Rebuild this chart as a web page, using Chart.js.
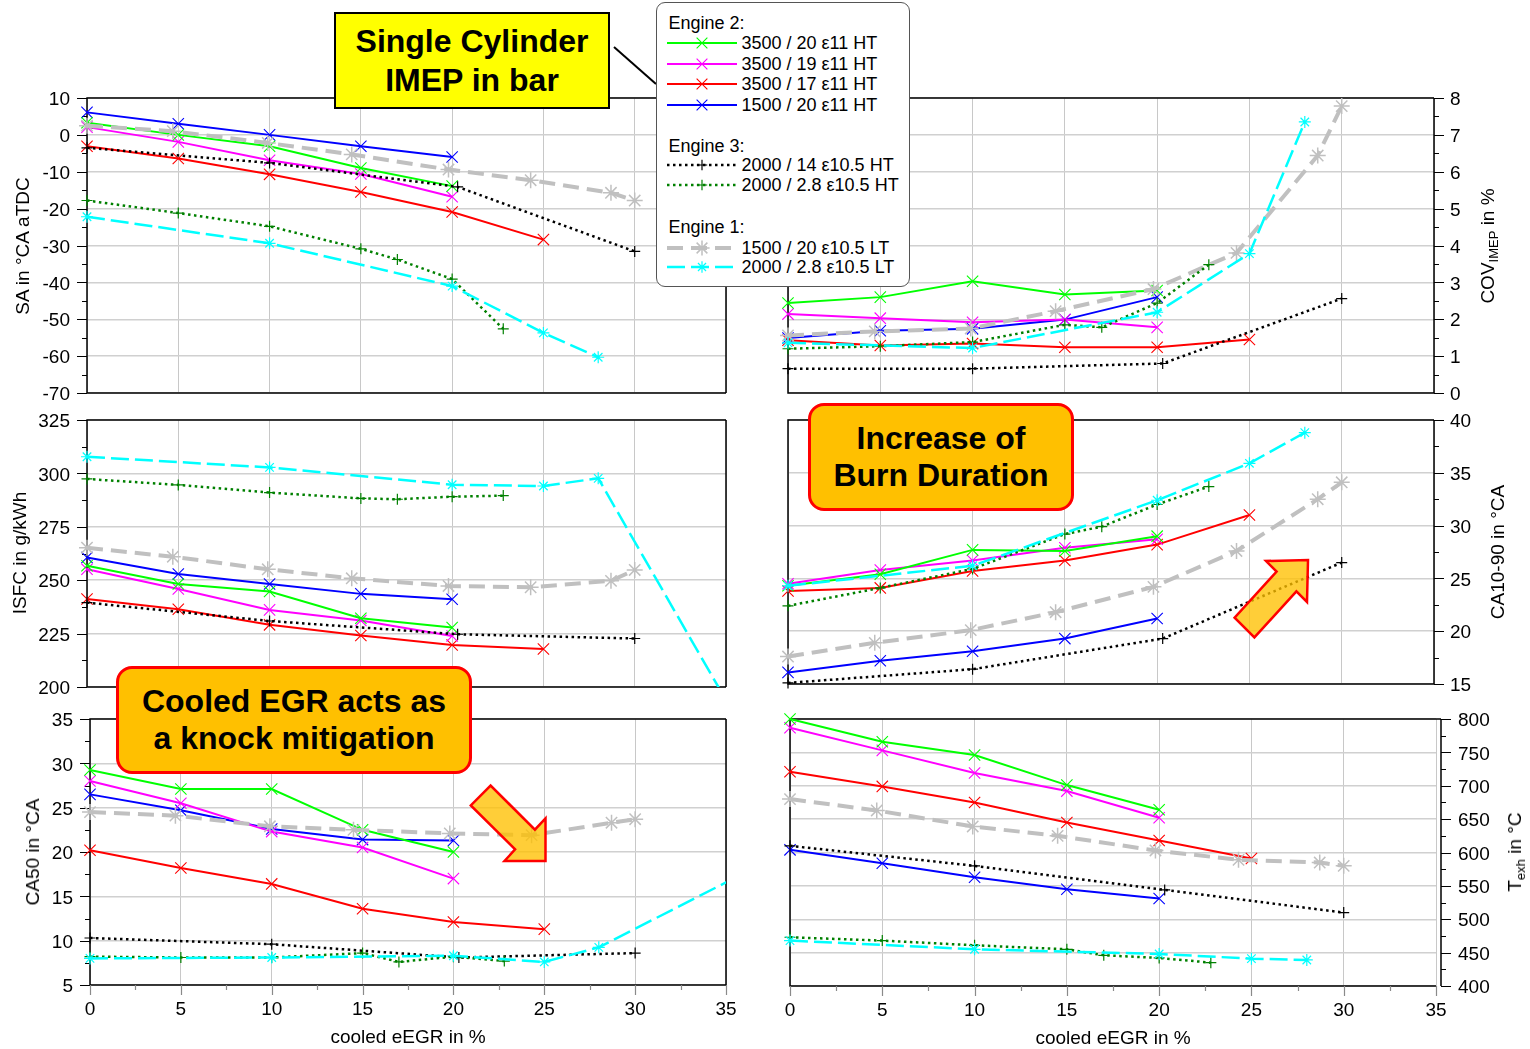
<!DOCTYPE html>
<html>
<head>
<meta charset="utf-8">
<script src="https://cdn.jsdelivr.net/npm/chart.js@4.4.1/dist/chart.umd.min.js"></script>
<style>
  body { margin: 0; background: #fff; font-family: 'Liberation Sans', Arial, sans-serif; }
  #wrap { position: relative; width: 1530px; height: 1049px; overflow: hidden; }
  canvas { position: absolute; }
  .ytitle { position: absolute; font-size: 19px; line-height: 22px; white-space: nowrap;
            transform: translate(-50%, -50%) rotate(-90deg); }
  .ytitle sub { font-size: 13px; line-height: 0; vertical-align: -4px; }
  .xtitle { position: absolute; font-size: 19px; line-height: 22px; white-space: nowrap; transform: translateX(-50%); }
  .callout { position: absolute; box-sizing: border-box; display: flex; flex-direction: column;
             justify-content: center; align-items: center; text-align: center; font-weight: bold; font-size: 32px; }
  #legend { position: absolute; left: 656px; top: 2px; width: 254px; height: 285px; box-sizing: border-box;
            border: 1.5px solid #555; border-radius: 9px; background: #fff; font-size: 18px; }
  .lrow { position: absolute; height: 20px; line-height: 20px; white-space: nowrap; }
  .lrow svg { vertical-align: top; }
  .lrow span { margin-left: 5px; }
</style>
</head>
<body>
<div id="wrap"></div>
<script>
// cooled eEGR in % for each operating point
const egrEngine2 = [0, 5, 10, 15, 20];
const egrRed = [0, 5, 10, 15, 20, 25];
const egrBlack = [0, 10, 20.3, 30];
const egrGreenDot = [0, 5, 10, 15, 17, 20, 22.8];
const egrGray = [0, 4.7, 9.9, 14.5, 19.8, 24.3, 28.7, 30];
const egrCyan = [0, 10, 20, 25, 28, 40]; // last point only in ISFC / CA50, outside the axis

// SA in °CA aTDC
const saGreen = [3.3, 0, -3.1, -9.0, -13.9];
const saMagenta = [2.1, -1.9, -6.9, -10.6, -16.8];
const saRed = [-3.1, -6.4, -10.7, -15.5, -20.9, -28.4];
const saBlue = [6.1, 3.0, 0, -3.1, -6.0];
const saBlack = [-3.5, -7.6, -14.1, -31.6];
const saGreenDot = [-17.8, -21.2, -24.8, -30.9, -33.8, -39.1, -52.6];
const saGray = [2.5, 1.0, -2.2, -5.3, -9.4, -12.3, -15.7, -17.8];
const saCyan = [-22.2, -29.4, -41.0, -53.7, -60.3];

// COV IMEP in %
const covGreen = [2.44, 2.60, 3.03, 2.67, 2.78];
const covMagenta = [2.14, 2.03, 1.92, 1.99, 1.78];
const covRed = [1.43, 1.29, 1.34, 1.24, 1.24, 1.45];
const covBlue = [1.49, 1.69, 1.74, 1.99, 2.60];
const covBlack = [0.66, 0.66, 0.80, 2.56];
const covGreenDot = [1.20, 1.27, 1.38, 1.85, 1.78, 2.44, 3.48];
const covGray = [1.56, 1.67, 1.75, 2.22, 2.82, 3.80, 6.44, 7.78];
const covCyan = [1.36, 1.22, 2.19, 3.78, 7.35];

// ISFC in g/kWh
const isfcGreen = [256.8, 248.2, 244.7, 232.2, 227.8];
const isfcMagenta = [255.1, 245.9, 236.1, 231.1, 223.9];
const isfcRed = [241.2, 236.4, 229.1, 224.1, 219.7, 217.8];
const isfcBlue = [260.6, 252.9, 248.2, 243.6, 241.1];
const isfcBlack = [239.5, 230.9, 224.7, 222.7];
const isfcGreenDot = [297.4, 294.6, 291.0, 288.3, 287.9, 289.1, 289.6];
const isfcGray = [265.2, 261.0, 255.1, 250.9, 247.3, 246.7, 249.7, 254.8];
const isfcCyan = [307.8, 302.8, 294.7, 294.1, 297.7, 119.6];

// CA10-90 in °CA
const burnGreen = [24.3, 25.4, 27.7, 27.6, 29.0];
const burnMagenta = [24.5, 25.8, 26.7, 27.9, 28.7];
const burnRed = [23.8, 24.1, 25.7, 26.7, 28.2, 31.0];
const burnBlue = [16.1, 17.2, 18.1, 19.3, 21.2];
const burnBlack = [15.1, 16.4, 19.3, 26.5];
const burnGreenDot = [22.4, 24.1, 25.9, 29.2, 29.9, 32.0, 33.7];
const burnGray = [17.6, 18.9, 20.1, 21.8, 24.2, 27.6, 32.5, 34.1];
const burnCyan = [24.3, 26.2, 32.4, 35.9, 38.8];

// CA50 in °CA
const ca50Green = [29.25, 27.1, 27.1, 22.5, 20.0];
const ca50Magenta = [28.0, 25.5, 22.3, 20.5, 17.0];
const ca50Red = [20.2, 18.2, 16.4, 13.6, 12.1, 11.3];
const ca50Blue = [26.5, 24.7, 22.6, 21.4, 21.3];
const ca50Black = [10.3, 9.6, 8.1, 8.6];
const ca50GreenDot = [8.2, 8.1, 8.1, 8.6, 7.6, 8.2, 7.7];
const ca50Gray = [24.5, 24.1, 22.9, 22.5, 22.1, 21.9, 23.3, 23.7];
const ca50Cyan = [8.0, 8.1, 8.3, 7.6, 9.25, 21.8];

// Texh in °C
const texhGreen = [800, 766, 746, 701, 664];
const texhMagenta = [787, 753, 719, 692, 652];
const texhRed = [721, 699, 675, 645, 618, 591];
const texhBlue = [604, 584, 563, 545, 531];
const texhBlack = [610, 580, 544, 510];
const texhGreenDot = [473, 468, 461, 455, 446, 442, 435];
const texhGray = [680, 663, 639, 625, 603, 589, 585, 580];
const texhCyan = [468, 455, 448, 441, 439];

// line styles
const eng2 = { w: 2, dash: [], ps: 'crossRot', r: 8, pw: 1.1 };
const styles = {
  green:    { label: '3500 / 20 ε11 HT', color: '#00ff00', ...eng2 },
  magenta:  { label: '3500 / 19 ε11 HT', color: '#ff00ff', ...eng2 },
  red:      { label: '3500 / 17 ε11 HT', color: '#ff0000', ...eng2 },
  blue:     { label: '1500 / 20 ε11 HT', color: '#0000ff', ...eng2 },
  black:    { label: '2000 / 14 ε10.5 HT', color: '#000000', w: 2.5, dash: [2.5, 3.5], ps: 'cross', r: 5.5, pw: 1.2 },
  greenDot: { label: '2000 / 2.8 ε10.5 HT', color: '#008000', w: 2.5, dash: [2.5, 3.5], ps: 'cross', r: 5.5, pw: 1.2 },
  gray:     { label: '1500 / 20 ε10.5 LT', color: '#c0c0c0', w: 4, dash: [16, 8], ps: 'star', r: 8, pw: 1.5 },
  cyan:     { label: '2000 / 2.8 ε10.5 LT', color: '#00ffff', w: 2.5, dash: [18, 6], ps: 'star', r: 6, pw: 1.2 },
};

Chart.defaults.font.family = "'Liberation Sans', Arial, sans-serif";
Chart.defaults.font.size = 19;
Chart.defaults.color = '#000';

const wrap = document.getElementById('wrap');

function isMajor(v, step) {
  const q = v / step;
  return Math.abs(q - Math.round(q)) < 1e-6;
}

function series(key, xs, ys) {
  const s = styles[key];
  return {
    label: s.label,
    data: ys.map((y, i) => ({ x: xs[i], y: y })),
    borderColor: s.color,
    borderWidth: s.w,
    borderDash: s.dash,
    pointStyle: s.ps,
    pointRadius: s.r,
    pointBorderWidth: s.pw,
    pointBorderColor: s.color,
    pointBackgroundColor: s.color,
    tension: 0,
    fill: false,
    clip: key === 'cyan' ? { left: false, top: false, right: 0, bottom: 0 } : false
  };
}

// frame around the plot + outside tick marks
const frame = {
  id: 'frame',
  beforeDatasetsDraw(chart, args, opts) {
    const ctx = chart.ctx, a = chart.chartArea;
    const off = opts.spineOff || 0;
    const y = chart.scales.y, x = chart.scales.x;
    const onRight = y.options.position === 'right';
    ctx.save();
    ctx.strokeStyle = '#000';
    ctx.lineWidth = 1.5;
    ctx.beginPath();
    ctx.moveTo(a.right + off, a.top); ctx.lineTo(a.left, a.top);
    ctx.lineTo(a.left, a.bottom); ctx.lineTo(a.right, a.bottom);
    ctx.moveTo(a.right + off, a.top); ctx.lineTo(a.right + off, a.bottom);
    ctx.stroke();

    ctx.lineWidth = 1.2;
    ctx.beginPath();
    const sx = onRight ? a.right + off : a.left;
    const dir = onRight ? 1 : -1;
    y.ticks.forEach(t => {
      const py = Math.round(y.getPixelForValue(t.value)) + 0.5;
      const len = t.label ? 10 : 5;
      ctx.moveTo(sx, py); ctx.lineTo(sx + dir * len, py);
    });
    ctx.stroke();

    if (x.options.ticks.display) {
      ctx.strokeStyle = '#8a8a8a';
      ctx.beginPath();
      x.ticks.forEach(t => {
        const px = Math.round(x.getPixelForValue(t.value)) + 0.5;
        const len = t.label ? 10 : 5;
        ctx.moveTo(px, a.bottom); ctx.lineTo(px, a.bottom + len);
      });
      ctx.stroke();
    }
    ctx.restore();
  }
};

function makePanel(box, yAxis, sets, showX, spineOff) {
  const cv = document.createElement('canvas');
  const w = box.cr - box.cl, h = box.cb - box.ct;
  cv.width = w; cv.height = h;
  cv.style.left = box.cl + 'px'; cv.style.top = box.ct + 'px';
  cv.style.width = w + 'px'; cv.style.height = h + 'px';
  wrap.appendChild(cv);
  const right = yAxis.side === 'right';
  const yw = right ? box.cr - box.pr : box.pl - box.cl;
  const xh = box.cb - box.pb;

  new Chart(cv, {
    type: 'line',
    data: { datasets: sets },
    options: {
      responsive: false,
      animation: false,
      devicePixelRatio: 1,
      events: [],
      layout: { padding: { top: box.pt - box.ct, bottom: 0,
                           left: right ? box.pl - box.cl : 0,
                           right: right ? 0 : box.cr - box.pr } },
      plugins: { legend: { display: false }, tooltip: { enabled: false }, frame: { spineOff: spineOff || 0 } },
      scales: {
        x: {
          type: 'linear', min: 0, max: 35,
          ticks: { display: showX, stepSize: showX ? 2.5 : 5, autoSkip: false, maxRotation: 0, padding: 13,
                   callback: v => isMajor(v, 5) ? String(v) : '' },
          grid: { drawTicks: false, lineWidth: 1,
                  color: c => isMajor(c.tick.value, 5) ? '#c8c8c8' : 'rgba(0,0,0,0)' },
          border: { display: false },
          afterFit: s => { s.height = xh; }
        },
        y: {
          position: right ? 'right' : 'left',
          min: yAxis.min, max: yAxis.max,
          ticks: { stepSize: yAxis.minor, autoSkip: false, padding: yAxis.pad, labelOffset: 2,
                   callback: v => isMajor(v, yAxis.major) ? String(Math.round(v * 100) / 100) : '' },
          grid: { drawTicks: false, lineWidth: 1.5,
                  color: c => isMajor(c.tick.value, yAxis.major) ? '#d0d0d0' : 'rgba(0,0,0,0)' },
          border: { display: false },
          afterFit: s => { s.width = yw; }
        }
      }
    },
    plugins: [frame]
  });
}

function allSeries(g, m, r, b, k, gd, gr, cy) {
  // first entry is drawn on top
  return [
    series('cyan', egrCyan, cy),
    series('greenDot', egrGreenDot, gd),
    series('black', egrBlack, k),
    series('gray', egrGray, gr),
    series('green', egrEngine2, g),
    series('magenta', egrEngine2, m),
    series('red', egrRed, r),
    series('blue', egrEngine2, b)
  ];
}

// SA
makePanel({ cl: 0, ct: 53, cr: 751, cb: 433, pl: 87, pt: 98, pr: 726, pb: 393 },
  { side: 'left', min: -70, max: 10, major: 10, minor: 5, pad: 17 },
  allSeries(saGreen, saMagenta, saRed, saBlue, saBlack, saGreenDot, saGray, saCyan), false);
// COV
makePanel({ cl: 763, ct: 53, cr: 1530, cb: 433, pl: 788, pt: 98, pr: 1434, pb: 393 },
  { side: 'right', min: 0, max: 8, major: 1, minor: 0.5, pad: 16 },
  allSeries(covGreen, covMagenta, covRed, covBlue, covBlack, covGreenDot, covGray, covCyan), false);
// ISFC
makePanel({ cl: 0, ct: 375, cr: 751, cb: 727, pl: 87, pt: 420, pr: 726, pb: 687 },
  { side: 'left', min: 200, max: 325, major: 25, minor: 12.5, pad: 17 },
  allSeries(isfcGreen, isfcMagenta, isfcRed, isfcBlue, isfcBlack, isfcGreenDot, isfcGray, isfcCyan), false);
// CA10-90
makePanel({ cl: 763, ct: 375, cr: 1530, cb: 724, pl: 788, pt: 420, pr: 1434, pb: 684 },
  { side: 'right', min: 15, max: 40, major: 5, minor: 2.5, pad: 16 },
  allSeries(burnGreen, burnMagenta, burnRed, burnBlue, burnBlack, burnGreenDot, burnGray, burnCyan), false);
// CA50
makePanel({ cl: 0, ct: 674, cr: 751, cb: 1049, pl: 90, pt: 719, pr: 726, pb: 985 },
  { side: 'left', min: 5, max: 35, major: 5, minor: 2.5, pad: 17 },
  allSeries(ca50Green, ca50Magenta, ca50Red, ca50Blue, ca50Black, ca50GreenDot, ca50Gray, ca50Cyan), true);
// Texh
makePanel({ cl: 765, ct: 674, cr: 1530, cb: 1049, pl: 790, pt: 719, pr: 1436, pb: 986 },
  { side: 'right', min: 400, max: 800, major: 50, minor: 25, pad: 22 },
  allSeries(texhGreen, texhMagenta, texhRed, texhBlue, texhBlack, texhGreenDot, texhGray, texhCyan), true, 5);

// axis titles
function addEl(cls, html, css) {
  const d = document.createElement('div');
  d.className = cls;
  d.innerHTML = html;
  Object.assign(d.style, css);
  wrap.appendChild(d);
  return d;
}
addEl('ytitle', 'SA in °CA aTDC', { left: '23px', top: '246px' });
addEl('ytitle', 'ISFC in g/kWh', { left: '20px', top: '553px' });
addEl('ytitle', 'CA50 in °CA', { left: '33px', top: '852px' });
addEl('ytitle', 'COV<sub>IMEP</sub> in %', { left: '1488px', top: '246px' });
addEl('ytitle', 'CA10-90 in °CA', { left: '1498px', top: '552px' });
addEl('ytitle', 'T<sub>exh</sub> in °C', { left: '1515px', top: '852px' });
addEl('xtitle', 'cooled eEGR in %', { left: '408px', top: '1026px' });
addEl('xtitle', 'cooled eEGR in %', { left: '1113px', top: '1027px' });

// callouts
addEl('callout', 'Single Cylinder<br>IMEP in bar', {
  left: '334px', top: '12px', width: '276px', height: '97px',
  background: '#ffff00', border: '2.5px solid #000', lineHeight: '39px'
});
addEl('callout', 'Increase of<br>Burn Duration', {
  left: '808px', top: '403px', width: '266px', height: '108px',
  background: '#ffc000', border: '3px solid #ff0000', borderRadius: '16px', lineHeight: '37.5px'
});
addEl('callout', 'Cooled EGR acts as<br>a knock mitigation', {
  left: '116px', top: '666px', width: '356px', height: '108px',
  background: '#ffc000', border: '3px solid #ff0000', borderRadius: '16px', lineHeight: '37px'
});

// arrows and connector
const NS = 'http://www.w3.org/2000/svg';
const over = document.createElementNS(NS, 'svg');
over.setAttribute('width', 1530); over.setAttribute('height', 1049);
over.style.position = 'absolute'; over.style.left = '0'; over.style.top = '0';
over.innerHTML =
  '<line x1="614" y1="47" x2="656" y2="84" stroke="#000" stroke-width="2"/>' +
  '<polygon points="1308,560 1307,602 1296.4,591.4 1254.4,637.4 1234.6,617.6 1276.6,571.6 1266,561" ' +
  'fill="rgba(255,192,0,0.78)" stroke="#ff0000" stroke-width="2.5" stroke-linejoin="miter"/>' +
  '<polygon points="545.5,861 504.5,861 515.1,849.4 470.8,805.4 490.6,785.6 534.9,829.6 545.5,818.3" ' +
  'fill="rgba(255,192,0,0.78)" stroke="#ff0000" stroke-width="2.5" stroke-linejoin="miter"/>';
wrap.appendChild(over);

// legend
const legend = document.createElement('div');
legend.id = 'legend';
wrap.appendChild(legend);

function markerPath(ps, cx, cy, r) {
  let d = '';
  if (ps === 'cross' || ps === 'star') d += `M${cx - r},${cy}H${cx + r}M${cx},${cy - r}V${cy + r}`;
  if (ps === 'crossRot' || ps === 'star') {
    const k = r * Math.SQRT1_2;
    d += `M${cx - k},${cy - k}L${cx + k},${cy + k}M${cx - k},${cy + k}L${cx + k},${cy - k}`;
  }
  return d;
}

function legendHead(text, cy) {
  const d = document.createElement('div');
  d.className = 'lrow';
  d.style.left = (669 - 657.5) + 'px';
  d.style.top = (cy - 10 - 3.5) + 'px';
  d.textContent = text;
  legend.appendChild(d);
}
function legendRow(key, cy) {
  const s = styles[key];
  const d = document.createElement('div');
  d.className = 'lrow';
  d.style.left = (667 - 657.5) + 'px';
  d.style.top = (cy - 10 - 3.5) + 'px';
  const dash = s.dash.length ? `stroke-dasharray="${s.dash.join(',')}"` : '';
  d.innerHTML = `<svg width="70" height="20"><line x1="0" y1="10" x2="70" y2="10" stroke="${s.color}" ` +
    `stroke-width="${s.w}" ${dash}/><path d="${markerPath(s.ps, 35, 10, s.r * 0.95)}" stroke="${s.color}" ` +
    `stroke-width="${s.pw}" fill="none"/></svg><span>${s.label}</span>`;
  legend.appendChild(d);
}
legendHead('Engine 2:', 23);
legendRow('green', 43.5);
legendRow('magenta', 64.2);
legendRow('red', 84.2);
legendRow('blue', 105.2);
legendHead('Engine 3:', 146);
legendRow('black', 165.8);
legendRow('greenDot', 185.8);
legendHead('Engine 1:', 227.5);
legendRow('gray', 248.2);
legendRow('cyan', 267.5);
</script>
</body>
</html>
